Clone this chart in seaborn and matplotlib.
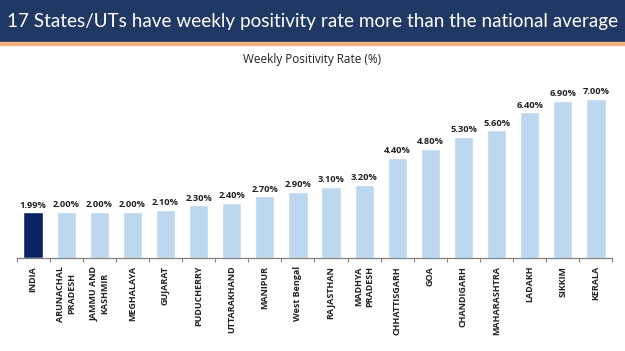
import seaborn as sns
import pandas as pd
import numpy as np
import matplotlib.pyplot as plt
import matplotlib.patches as mpatches

states = [
    "INDIA", "ARUNACHAL\nPRADESH", "JAMMU AND\nKASHMIR", "MEGHALAYA", "GUJARAT",
    "PUDUCHERRY", "UTTARAKHAND", "MANIPUR", "West Bengal", "RAJASTHAN",
    "MADHYA\nPRADESH", "CHHATTISGARH", "GOA", "CHANDIGARH", "MAHARASHTRA",
    "LADAKH", "SIKKIM", "KERALA",
]
rates = [1.99, 2.00, 2.00, 2.00, 2.10, 2.30, 2.40, 2.70, 2.90, 3.10,
         3.20, 4.40, 4.80, 5.30, 5.60, 6.40, 6.90, 7.00]
kind = ["National"] + ["State"] * (len(states) - 1)

title = "17 States/UTs have weekly positivity rate more than the national average"
subtitle = "Weekly Positivity Rate (%)"

sns.set_theme(style="white")
plt.rcParams['font.family'] = ['Open Sans', 'DejaVu Sans']

data = pd.DataFrame({"State": states, "Rate": rates, "Kind": kind})

fig = plt.figure(figsize=(6.25, 3.51), dpi=100)
W, H = 625, 351

# title band + orange rule underneath
fig.patches.append(mpatches.Rectangle((0, 1 - 42 / H), 1, 42 / H, transform=fig.transFigure,
                                      color="#203864", zorder=0))
fig.patches.append(mpatches.Rectangle((0, 1 - 44.5 / H), 1, 2.5 / H, transform=fig.transFigure,
                                      color="#f4b183", zorder=0))
fig.text(0.5, 1 - 21 / H, title, color="white", fontsize=13.6, ha="center", va="center",
         family=["Lato", "DejaVu Sans"])
fig.text(0.5, 1 - 60 / H, subtitle, color="#222222", fontsize=8.5, ha="center", va="center")

ax = fig.add_axes([16.5 / W, (H - 257.5) / H, 596 / W, 163.4 / H])
sns.barplot(data=data, x="State", y="Rate", hue="Kind",
            palette={"National": "#0b2461", "State": "#bdd7ee"},
            width=0.58, dodge=False, legend=False, ax=ax, saturation=1)

for i, v in enumerate(rates):
    ax.text(i, v + 0.12, f"{v:.2f}%", ha="center", va="bottom", fontsize=6.7,
            fontweight="bold", color="#222222")

ax.set_ylim(0, 7.2)
ax.set_xlim(-0.5, len(states) - 0.5)
ax.set_xlabel("")
ax.set_ylabel("")
ax.set_yticks([])
ax.set_xticks(range(len(states)))
ax.set_xticklabels(states, rotation=90, fontsize=6.5, fontweight="bold",
                   color="#222222", multialignment="center")
ax.set_xticks(np.arange(-0.5, len(states), 1), minor=True)
ax.tick_params(axis="x", which="major", length=0, pad=6)
ax.tick_params(axis="x", which="minor", length=3, width=0.8, color="#808080", bottom=True)
for s in ["top", "left", "right"]:
    ax.spines[s].set_visible(False)
ax.spines["bottom"].set_color("#808080")
ax.spines["bottom"].set_linewidth(0.9)

fig.savefig("out.png", dpi=100)
